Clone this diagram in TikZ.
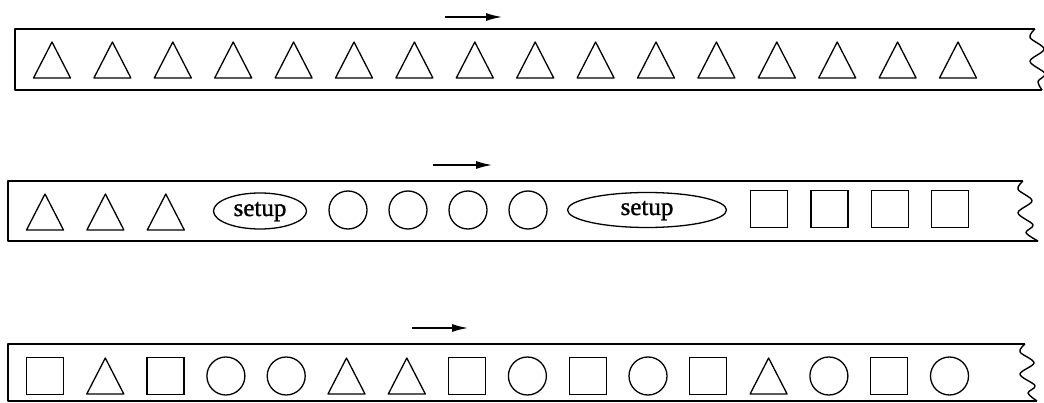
\documentclass[tikz,border=0pt]{standalone}
\usepackage{fontspec}
\setmainfont{Liberation Serif}
\newfontfamily\labelfont[FakeBold=1.2]{Liberation Serif}
\usetikzlibrary{arrows.meta,shapes.geometric}

\tikzset{
  belt/.style={line width=1.4pt, line join=round},
  item/.style={draw, line width=1.3pt, inner sep=0pt},
  sq/.style={item, rectangle, minimum size=37pt},
  circ/.style={item, circle, minimum size=38pt},
  setupbox/.style={item, ellipse, font=\labelfont\fontsize{25}{27}\selectfont, text height=16pt, text depth=6pt},
  feed/.style={line width=1.4pt, -{Latex[length=16pt,width=8pt]}},
  pics/tri/.style={code={
    \draw[line width=1.3pt, line join=round] (-18.5,18) -- (0,-18) -- (18.5,18) -- cycle;
    \coordinate (-c) at (0,0);
  }}
}

% a conveyor strip with a torn (wavy) right end
\newcommand{\beltstrip}[5]{% left, top, bottom, right-top, right-bottom
  \pgfmathsetmacro{\hh}{#3-#2}
  \draw[belt] (#4,#2) -- (#1,#2) -- (#1,#3) -- (#5,#3);
  \draw[belt] plot[smooth, tension=0.55] coordinates {
    (#4,#2) (#4-5,#2+0.14*\hh) (#4+9,#2+0.33*\hh) (#4-5,#2+0.53*\hh)
    (#4+10,#2+0.73*\hh) (#4+3,#2+0.86*\hh) (#5,#3)};
}

\begin{document}
\begin{tikzpicture}[x=1pt,y=-1pt]
\useasboundingbox (0,0) rectangle (1044,403);

% ---- top strip: all triangles
\beltstrip{15}{29}{90}{1035}{1042}
\coordinate (a1s) at (445,17);
\coordinate (a1e) at (502,17);
\draw[feed] (a1s) -- (a1e);
\foreach \i in {0,...,15} {
  \pic (r1t\i) at ({52+60.4*\i},60) {tri};
}

% ---- middle strip: batches separated by setups
\beltstrip{8}{181}{241}{1023}{1038}
\coordinate (a2s) at (433,165);
\coordinate (a2e) at (492,165);
\draw[feed] (a2s) -- (a2e);
\foreach \i in {0,1,2} {
  \pic (r2t\i) at ({45+60.4*\i},212) {tri};
}
\node[setupbox, minimum width=93pt, minimum height=36pt] (setupA) at (260,211) {setup};
\foreach \i in {0,...,3} {
  \node[circ] (r2c\i) at ({348+60*\i},210) {};
}
\node[setupbox, minimum width=159pt, minimum height=35pt] (setupB) at (647,210) {setup};
\foreach \i in {0,...,3} {
  \node[sq] (r2s\i) at ({769+60.4*\i},209) {};
}

% ---- bottom strip: mixed sequence
\beltstrip{8}{344}{401}{1025}{1037}
\coordinate (a3s) at (412,328);
\coordinate (a3e) at (468,328);
\draw[feed] (a3s) -- (a3e);
\foreach \k/\s in {0/s,1/t,2/s,3/c,4/c,5/t,6/t,7/s,8/c,9/s,10/c,11/s,12/t,13/c,14/s,15/c} {
  \if\s t
    \pic (r3x\k) at ({45+60.3*\k},376) {tri};
  \else\if\s c
    \node[circ] (r3x\k) at ({45+60.3*\k},376) {};
  \else
    \node[sq] (r3x\k) at ({45+60.3*\k},376) {};
  \fi\fi
}
\end{tikzpicture}
\end{document}
